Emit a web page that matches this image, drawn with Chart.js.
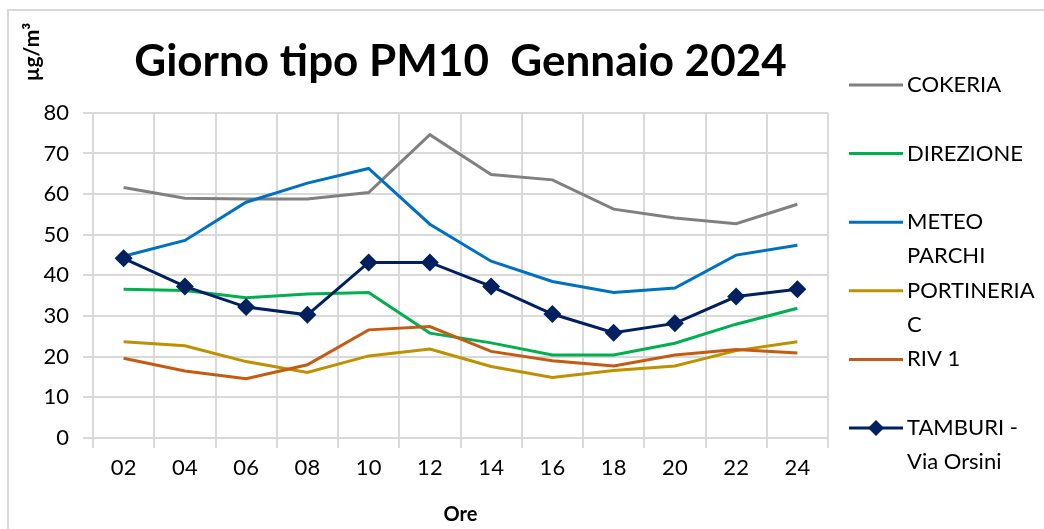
<!DOCTYPE html>
<html>
<head>
<meta charset="utf-8">
<script src="https://cdn.jsdelivr.net/npm/chart.js@4/dist/chart.umd.min.js"></script>
<style>
  html, body { margin: 0; padding: 0; background: #ffffff; }
  #wrap { width: 1044px; height: 529px; position: relative; }
</style>
</head>
<body>
<div id="wrap"><canvas id="c" width="1044" height="529"></canvas></div>
<script>
// ---- data ----
const hours = ["02","04","06","08","10","12","14","16","18","20","22","24"];
const cokeria    = [61.6, 59.0, 58.8, 58.8, 60.4, 74.6, 64.8, 63.5, 56.3, 54.1, 52.7, 57.5];
const direzione  = [36.6, 36.3, 34.5, 35.4, 35.8, 25.8, 23.4, 20.4, 20.4, 23.3, 28.0, 31.9];
const meteoParchi= [44.7, 48.6, 58.0, 62.7, 66.3, 52.6, 43.5, 38.5, 35.8, 36.9, 45.0, 47.4];
const portineria = [23.7, 22.7, 18.8, 16.1, 20.2, 21.9, 17.6, 14.9, 16.6, 17.7, 21.5, 23.7];
const riv1       = [19.6, 16.5, 14.6, 18.0, 26.6, 27.4, 21.3, 19.0, 17.7, 20.4, 21.8, 20.9];
const tamburi    = [44.2, 37.3, 32.2, 30.3, 43.2, 43.2, 37.3, 30.5, 25.9, 28.2, 34.8, 36.6];
const seriesNames = [["COKERIA"], ["DIREZIONE"], ["METEO", "PARCHI"], ["PORTINERIA", "C"], ["RIV 1"], ["TAMBURI -", "Via Orsini"]];
const seriesColors = ["#808080", "#00b050", "#0070c0", "#bf9000", "#c55a11", "#002060"];
const titleText = "Giorno tipo PM10  Gennaio 2024";
const unitText = "µg/m³";
const xTitleText = "Ore";

const FONT = "Lato, 'Open Sans', sans-serif";
const seriesData = [cokeria, direzione, meteoParchi, portineria, riv1, tamburi];

const datasets = seriesData.map((d, i) => ({
  label: seriesNames[i].join(" "),
  data: d,
  borderColor: seriesColors[i],
  backgroundColor: seriesColors[i],
  borderWidth: 3,
  tension: 0,
  pointRadius: i === 5 ? 9 : 0,
  pointHoverRadius: i === 5 ? 9 : 0,
  pointStyle: 'rectRot',
  pointBorderWidth: 0,
  order: 6 - i
}));

const decorPlugin = {
  id: 'decor',
  beforeDraw(chart) {
    const ctx = chart.ctx;
    ctx.save();
    ctx.fillStyle = '#ffffff';
    ctx.fillRect(0, 0, chart.width, chart.height);
    ctx.strokeStyle = '#d9d9d9';
    ctx.lineWidth = 2;
    ctx.beginPath();
    ctx.moveTo(8, 529);
    ctx.lineTo(8, 10);
    ctx.lineTo(1044, 10);
    ctx.stroke();
    ctx.restore();
  },
  afterDraw(chart) {
    const ctx = chart.ctx;
    ctx.save();
    // unit label, rotated
    ctx.translate(32, 52);
    ctx.rotate(-Math.PI / 2);
    ctx.font = "bold 21px " + FONT;
    ctx.fillStyle = '#000';
    ctx.textAlign = 'center';
    ctx.textBaseline = 'middle';
    ctx.fillText(unitText, 0, 0);
    ctx.restore();

    // legend
    ctx.save();
    ctx.font = "22px " + FONT;
    ctx.textAlign = 'left';
    ctx.textBaseline = 'middle';
    const y0 = 85, step = 68.6, lh = 34;
    seriesNames.forEach((lines, i) => {
      const y = y0 + i * step;
      ctx.strokeStyle = seriesColors[i];
      ctx.lineWidth = 3;
      ctx.beginPath();
      ctx.moveTo(849, y);
      ctx.lineTo(903, y);
      ctx.stroke();
      if (i === 5) {
        ctx.fillStyle = seriesColors[i];
        ctx.beginPath();
        ctx.moveTo(876, y - 8);
        ctx.lineTo(884, y);
        ctx.lineTo(876, y + 8);
        ctx.lineTo(868, y);
        ctx.closePath();
        ctx.fill();
      }
      ctx.fillStyle = '#000';
      lines.forEach((t, k) => ctx.fillText(t, 907, y + k * lh));
    });
    ctx.restore();
  }
};

new Chart(document.getElementById('c'), {
  type: 'line',
  data: { labels: hours, datasets },
  plugins: [decorPlugin],
  options: {
    responsive: false,
    animation: false,
    layout: { padding: { left: 0, right: 216, top: 0, bottom: 0 } },
    plugins: {
      legend: { display: false },
      tooltip: { enabled: false },
      title: {
        display: true,
        text: titleText,
        fullSize: false,
        color: '#000',
        font: { family: FONT, size: 44, weight: 'bold', lineHeight: 1.2 },
        padding: { top: 35, bottom: 25 }
      }
    },
    scales: {
      x: {
        offset: true,
        grid: { color: '#d9d9d9', lineWidth: 2, offset: true, tickLength: 10, drawTicks: true },
        border: { color: '#d9d9d9', width: 2 },
        ticks: { color: '#000', font: { family: FONT, size: 22 }, padding: 7, maxRotation: 0 },
        title: { display: true, text: xTitleText, color: '#000', font: { family: FONT, size: 20, weight: 'bold' }, padding: { top: 0, bottom: 2 } },
        afterFit: s => { s.height = 91; }
      },
      y: {
        min: 0, max: 80,
        grid: { color: '#d9d9d9', lineWidth: 2, tickLength: 10 },
        border: { color: '#d9d9d9', width: 2 },
        ticks: { stepSize: 10, color: '#000', font: { family: FONT, size: 22 }, padding: 14 },
        afterFit: s => { s.width = 93; }
      }
    }
  }
});
</script>
</body>
</html>
